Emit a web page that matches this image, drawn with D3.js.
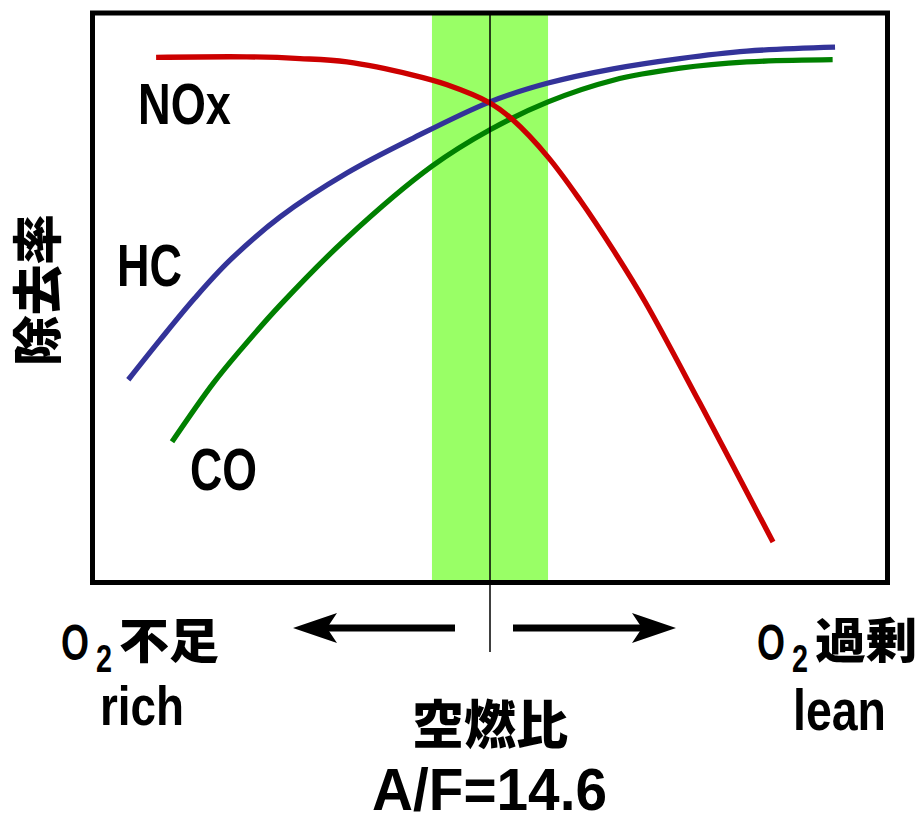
<!DOCTYPE html>
<html>
<head>
<meta charset="utf-8">
<script src="https://cdn.jsdelivr.net/npm/d3@7"></script>
<style>
  body { margin: 0; background: #fff; }
  .lat { font-family: "Liberation Sans", Arial, sans-serif; font-weight: bold; fill: #000; }
  .cjk { font-family: "Noto Sans CJK JP", sans-serif; font-weight: 900; fill: #000; }
</style>
</head>
<body>
<script>
var width = 920, height = 815;

// removal rate (%) vs air/fuel position (0 = rich edge, 100 = lean edge, 50 = A/F 14.6)
var nox = [[8,92.2],[19.4,92.3],[26.1,92],[32,91.4],[40.3,89.1],[44.6,87.4],[50,84.2],[52.9,81.2],
           [57.3,74.7],[61.3,67.2],[65.5,58.4],[69.5,49.3],[76.4,31.5],[85.6,7.1]];
var hc  = [[4.5,35.6],[8.5,42.6],[12.9,50],[17.3,56.6],[23.6,64.2],[32,71.9],[40.3,78],[50,84.4],
           [57.3,87.7],[65.5,90.2],[73.9,92],[82.3,93.3],[93.4,94]];
var co  = [[10,24.7],[15.2,35],[18.6,40.8],[23.6,48.7],[32,60.5],[42.7,73.1],[50,79.5],
           [57.3,84.4],[65.5,88.2],[73.9,90.3],[82.3,91.4],[93.1,91.8]];
var stoich = 50;
var window_ = [42.7, 57.3];

var svg = d3.select("body").append("svg").attr("width", width).attr("height", height);

var x = d3.scaleLinear().domain([0, 100]).range([92.5, 887.5]);
var y = d3.scaleLinear().domain([0, 100]).range([582.5, 13]);

// catalyst window band
svg.append("rect")
   .attr("x", x(window_[0])).attr("y", y(100))
   .attr("width", x(window_[1]) - x(window_[0])).attr("height", y(0) - y(100))
   .attr("fill", "#99ff66");

var line = d3.line().x(function(d){ return x(d[0]); }).y(function(d){ return y(d[1]); })
             .curve(d3.curveCatmullRom.alpha(0.5));

var series = [{name:"hc", data: hc, color:"#333399"},
              {name:"co", data: co, color:"#008000"},
              {name:"nox", data: nox, color:"#cc0000"}];
svg.selectAll(".curve").data(series).enter().append("path").classed("curve", true)
   .attr("d", function(d){ return line(d.data); })
   .attr("fill", "none").attr("stroke", function(d){ return d.color; })
   .attr("stroke-width", 5.3);

// stoichiometric line
svg.append("line").attr("x1", x(stoich)).attr("x2", x(stoich))
   .attr("y1", y(100)).attr("y2", 652)
   .attr("stroke", "#000").attr("stroke-width", 1.5);

// frame
svg.append("rect").attr("x", x(0)).attr("y", y(100))
   .attr("width", x(100) - x(0)).attr("height", y(0) - y(100))
   .attr("fill", "none").attr("stroke", "#000").attr("stroke-width", 5);

function label(cls, txt, px, py, size, len) {
  return svg.append("text").attr("class", cls).attr("x", px).attr("y", py)
            .style("font-size", size + "px")
            .attr("textLength", len).attr("lengthAdjust", "spacingAndGlyphs")
            .text(txt);
}

label("lat", "NOx", 138, 124, 58, 93);
label("lat", "HC", 117, 286, 59, 65);
label("lat", "CO", 190, 490, 59, 67);

// y label
svg.append("text").attr("class", "cjk")
   .attr("transform", "translate(37,290) rotate(-90)")
   .attr("text-anchor", "middle").attr("y", 19)
   .style("font-size", "50px")
   .attr("textLength", 152).attr("lengthAdjust", "spacingAndGlyphs")
   .text("除去率");

// arrows
var ay = 628;
function arrow(tip, tail, dir) {
  svg.append("line").attr("x1", tip + dir * 25).attr("x2", tail).attr("y1", ay).attr("y2", ay)
     .attr("stroke", "#000").attr("stroke-width", 7);
  svg.append("path")
     .attr("d", "M" + tip + "," + ay + " L" + (tip + dir * 44) + "," + (ay - 15) +
                " L" + (tip + dir * 34) + "," + ay + " L" + (tip + dir * 44) + "," + (ay + 15) + "Z")
     .attr("fill", "#000");
}
arrow(293, 455, 1);
arrow(676, 513, -1);

// O2 with subscript, as one text
function o2(px) {
  var t = svg.append("text").attr("class", "lat").attr("x", px).attr("y", 660);
  t.append("tspan").style("font-size", "50px")
   .attr("textLength", 28).attr("lengthAdjust", "spacingAndGlyphs").text("O");
  t.append("tspan").attr("x", px + 35).attr("dy", 12).style("font-size", "38px")
   .attr("textLength", 16).attr("lengthAdjust", "spacingAndGlyphs").text("2");
}

// bottom labels
o2(61);
label("cjk", "不足", 119, 658, 48, 100);
label("lat", "rich", 100, 725, 55, 84);

o2(757);
label("cjk", "過剰", 815, 658, 48, 102);
label("lat", "lean", 793, 730, 57, 93);

label("cjk", "空燃比", 412, 744, 52, 156);
label("lat", "A/F=14.6", 372, 810, 60, 235);
</script>
</body>
</html>
